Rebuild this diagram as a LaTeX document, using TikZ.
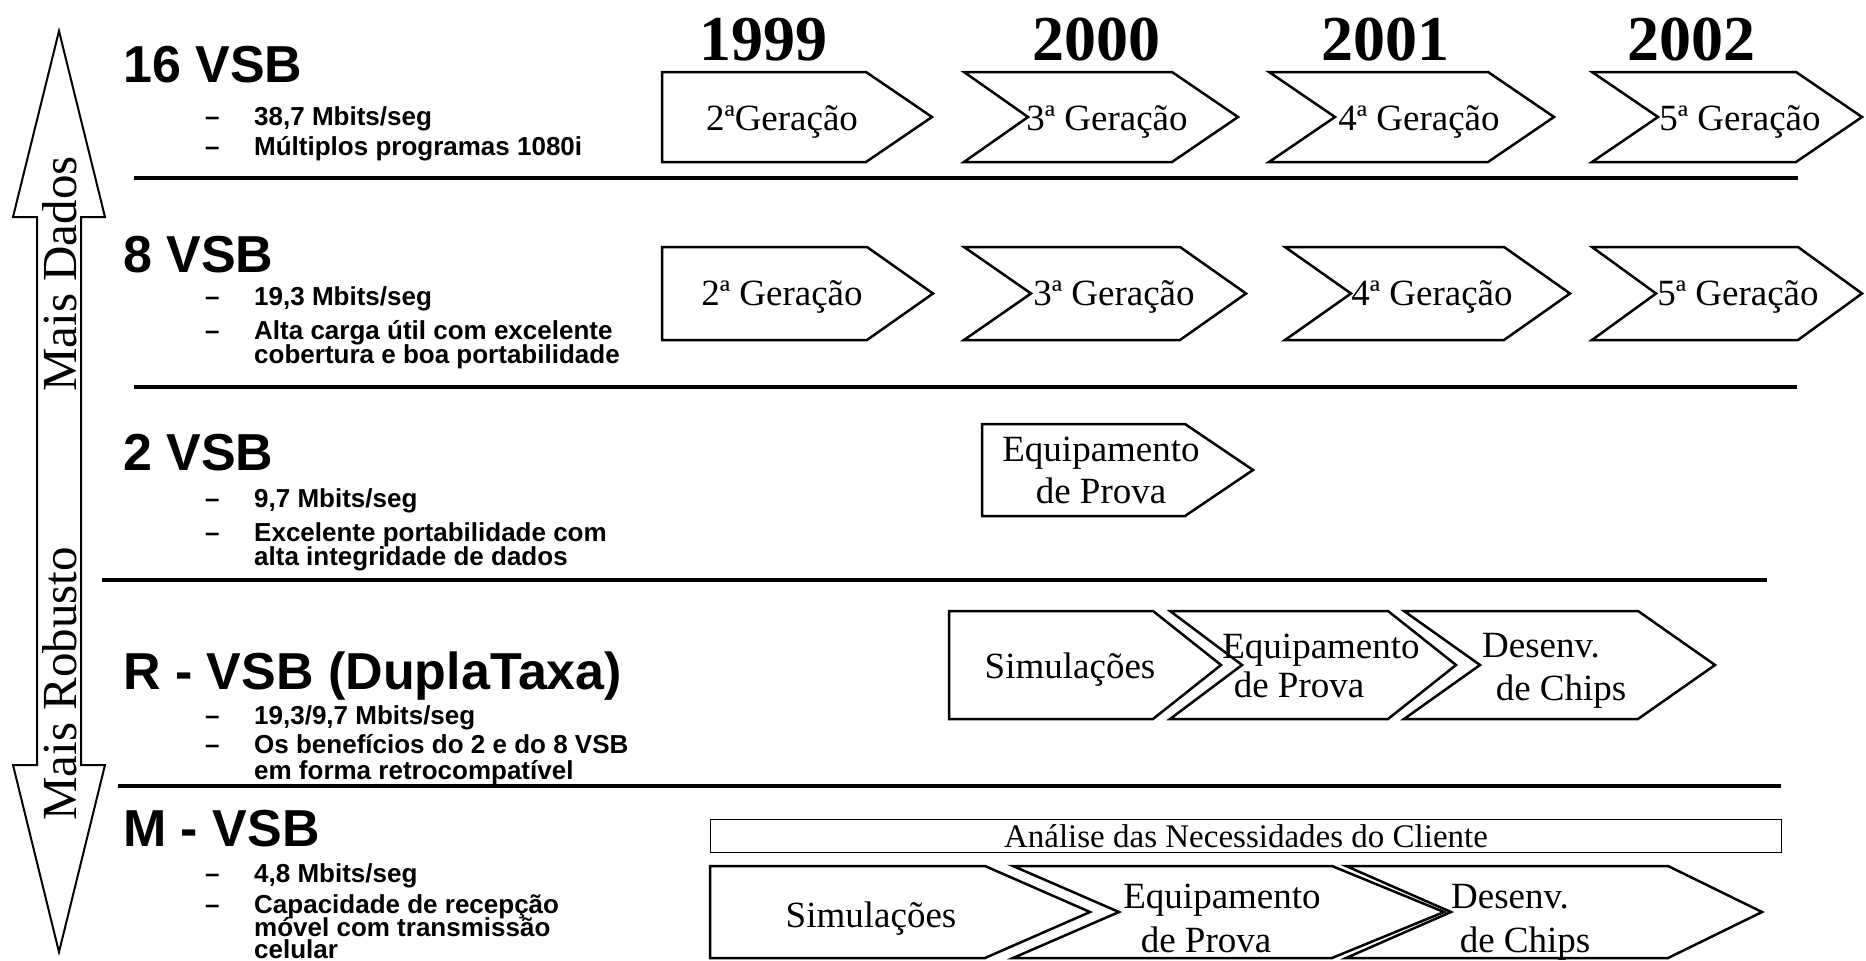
\documentclass[tikz,border=0pt]{standalone}
\usepackage{fontspec}
\setmainfont{Liberation Serif}
\setsansfont{Liberation Sans}

% chevron outline: name, top, bottom, left, notch, corner, tip
\newcommand{\chevron}[7]{%
  \draw[chev] (#4,#2) -- (#6,#2) -- (#7,{(#2+#3)/2}) -- (#6,#3) -- (#4,#3) -- (#5,{(#2+#3)/2}) -- cycle;
  \coordinate (#1) at (#5,{(#2+#3)/2});}

\begin{document}
\begin{tikzpicture}[x=1pt, y=-1pt,
    head/.style={font=\sffamily\bfseries\fontsize{52}{60}\selectfont, anchor=base west, inner sep=0pt},
    item/.style={font=\sffamily\bfseries\fontsize{26}{26}\selectfont, anchor=base west, inner sep=0pt},
    year/.style={font=\bfseries\fontsize{64}{70}\selectfont, anchor=base, inner sep=0pt},
    lab/.style={font=\fontsize{37}{42}\selectfont, anchor=base, inner sep=0pt},
    side/.style={font=\fontsize{49}{56}\selectfont, rotate=90, inner sep=0pt},
    chev/.style={line width=2.5pt, line join=miter},
    rule/.style={line width=3.5pt}]

  \useasboundingbox (0,0) rectangle (1866,961);

  % double arrow on the left
  \coordinate (up) at (59,31);
  \coordinate (down) at (59,952);
  \draw[line width=2pt] (up) -- (105,217) -- (81,217) -- (81,765) -- (105,765) -- (down)
    -- (13,765) -- (37,765) -- (37,217) -- (13,217) -- cycle;
  \node[side] (dados) at (60,274) {Mais Dados};
  \node[side] (robusto) at (60,684) {Mais Robusto};

  % years
  \foreach \yr/\xx in {1999/763, 2000/1096, 2001/1385, 2002/1691}
    \node[year] (y\yr) at (\xx,60) {\yr};

  % separators
  \draw[rule] (134,178) -- (1798,178);
  \draw[rule] (134,387) -- (1797,387);
  \draw[rule] (102,580) -- (1767,580);
  \draw[rule] (118,786) -- (1781,786);

  % 16 VSB
  \node[head] (h1) at (123,82) {16 VSB};
  \node[item] (d11) at (205,125) {–};
  \node[item] (t11) at (254,125) {38,7 Mbits/seg};
  \node[item] (d12) at (205,155) {–};
  \node[item] (t12) at (254,155) {Múltiplos programas 1080i};

  % 8 VSB
  \node[head] (h2) at (123,272) {8 VSB};
  \node[item] (d21) at (205,305) {–};
  \node[item] (t21) at (254,305) {19,3 Mbits/seg};
  \node[item] (d22) at (205,339) {–};
  \node[item] (t22) at (254,339) {Alta carga útil com excelente};
  \node[item] (t23) at (254,363) {cobertura e boa portabilidade};

  % 2 VSB
  \node[head] (h3) at (123,470) {2 VSB};
  \node[item] (d31) at (205,507) {–};
  \node[item] (t31) at (254,507) {9,7 Mbits/seg};
  \node[item] (d32) at (205,541) {–};
  \node[item] (t32) at (254,541) {Excelente portabilidade com};
  \node[item] (t33) at (254,565) {alta integridade de dados};

  % R - VSB
  \node[head] (h4) at (123,689) {R - VSB (DuplaTaxa)};
  \node[item] (d41) at (205,724) {–};
  \node[item] (t41) at (254,724) {19,3/9,7 Mbits/seg};
  \node[item] (d42) at (205,753) {–};
  \node[item] (t42) at (254,753) {Os benefícios do 2 e do 8 VSB};
  \node[item] (t43) at (254,779) {em forma retrocompatível};

  % M - VSB
  \node[head] (h5) at (123,846) {M - VSB};
  \node[item] (d51) at (205,882) {–};
  \node[item] (t51) at (254,882) {4,8 Mbits/seg};
  \node[item] (d52) at (205,913) {–};
  \node[item] (t52) at (254,913) {Capacidade de recepção};
  \node[item] (t53) at (254,936) {móvel com transmissão};
  \node[item] (t54) at (254,958) {celular};

  % row 1 chevrons
  \chevron{g11}{72}{162}{662}{662}{866}{932}
  \chevron{g12}{72}{162}{964}{1028}{1172}{1238}
  \chevron{g13}{72}{162}{1269}{1335}{1488}{1554}
  \chevron{g14}{72}{162}{1592}{1658}{1796}{1862}
  \node[lab] (n11) at (782,130) {2ªGeração};
  \node[lab] (n12) at (1107,130) {3ª Geração};
  \node[lab] (n13) at (1419,130) {4ª Geração};
  \node[lab] (n14) at (1740,130) {5ª Geração};

  % row 2 chevrons
  \chevron{g21}{247}{340}{662}{662}{867}{933}
  \chevron{g22}{247}{340}{964}{1031}{1180}{1246}
  \chevron{g23}{247}{340}{1285}{1351}{1504}{1570}
  \chevron{g24}{247}{340}{1592}{1656}{1798}{1862}
  \node[lab] (n21) at (782,305) {2ª Geração};
  \node[lab] (n22) at (1114,305) {3ª Geração};
  \node[lab] (n23) at (1432,305) {4ª Geração};
  \node[lab] (n24) at (1738,305) {5ª Geração};

  % row 3
  \chevron{p3}{424}{516}{982}{982}{1185}{1253}
  \node[lab] (n31) at (1101,461) {Equipamento};
  \node[lab] (n32) at (1101,503) {de Prova};

  % row 4
  \chevron{s4}{611}{719}{949}{949}{1153}{1221}
  \chevron{e4}{611}{719}{1170}{1242}{1388}{1456}
  \chevron{c4}{611}{719}{1404}{1480}{1638}{1715}
  \node[lab] (n41) at (1070,678) {Simulações};
  \node[lab] (n42) at (1321,658) {Equipamento};
  \node[lab] (n43) at (1299,697) {de Prova};
  \node[lab] (n44) at (1541,657) {Desenv.};
  \node[lab] (n45) at (1561,700) {de Chips};

  % row 5
  \node[draw, line width=1.5pt, minimum width=1071, minimum height=33, inner sep=0pt,
    font=\fontsize{33}{33}\selectfont] (cliente) at (1246,836) {Análise das Necessidades do Cliente};
  \chevron{s5}{866}{958}{710}{710}{985}{1090}
  \chevron{e5}{866}{958}{1013}{1119}{1332}{1444}
  \chevron{c5}{866}{958}{1346}{1451}{1668}{1762}
  \node[lab] (n51) at (871,927) {Simulações};
  \node[lab] (n52) at (1222,908) {Equipamento};
  \node[lab] (n53) at (1206,952) {de Prova};
  \node[lab] (n54) at (1510,908) {Desenv.};
  \node[lab] (n55) at (1525,952) {de Chips};
\end{tikzpicture}
\end{document}
